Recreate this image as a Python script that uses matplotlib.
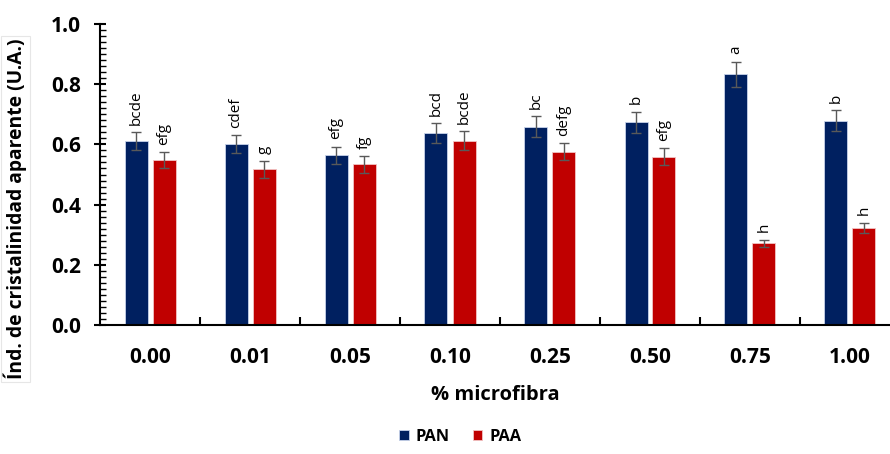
import numpy as np
import matplotlib.pyplot as plt
from matplotlib.ticker import MultipleLocator, FixedLocator, FormatStrFormatter

plt.rcParams['font.family'] = ['Open Sans', 'DejaVu Sans']

# datos: índice de cristalinidad por % de microfibra
microfibra = ['0.00', '0.01', '0.05', '0.10', '0.25', '0.50', '0.75', '1.00']
pan = [0.611, 0.601, 0.564, 0.637, 0.659, 0.674, 0.833, 0.679]
pan_err = [0.031, 0.031, 0.029, 0.033, 0.034, 0.035, 0.042, 0.034]
paa = [0.548, 0.517, 0.534, 0.612, 0.575, 0.559, 0.271, 0.322]
paa_err = [0.027, 0.027, 0.028, 0.032, 0.028, 0.028, 0.013, 0.018]
letras_pan = ['bcde', 'cdef', 'efg', 'bcd', 'bc', 'b', 'a', 'b']
letras_paa = ['efg', 'g', 'fg', 'bcde', 'defg', 'efg', 'h', 'h']

x = np.arange(len(microfibra))
w = 0.23
off = 0.14

fig = plt.figure(figsize=(8.9, 4.54), dpi=100)
ax = fig.add_axes([100 / 890, 129 / 454, 1 - 100 / 890, 301 / 454])

ax.bar(x - off, pan, w, color='#002060', edgecolor='#c7d3ea', linewidth=0.6, label='PAN')
ax.bar(x + off, paa, w, color='#C00000', edgecolor='#f2c4c4', linewidth=0.6, label='PAA')
ax.errorbar(x - off, pan, yerr=pan_err, fmt='none', ecolor='#595959', elinewidth=1, capsize=3.5, capthick=1)
ax.errorbar(x + off, paa, yerr=paa_err, fmt='none', ecolor='#595959', elinewidth=1, capsize=3.5, capthick=1)

# letras de significancia sobre cada barra
for i in range(len(x)):
    ax.text(x[i] - off, pan[i] + pan_err[i] + 0.024, letras_pan[i], rotation=90,
            ha='center', va='bottom', fontsize=11)
    ax.text(x[i] + off, paa[i] + paa_err[i] + 0.024, letras_paa[i], rotation=90,
            ha='center', va='bottom', fontsize=11)

ax.set_xlim(-0.5, 7.4)
ax.set_ylim(0, 1.0)
ax.yaxis.set_major_locator(MultipleLocator(0.2))
ax.yaxis.set_minor_locator(MultipleLocator(0.02))
ax.yaxis.set_major_formatter(FormatStrFormatter('%.1f'))
ax.tick_params(axis='y', which='major', direction='inout', length=9, width=1.5, labelsize=15, pad=9)
ax.tick_params(axis='y', which='minor', direction='in', length=4.5, width=1)
for lb in ax.get_yticklabels():
    lb.set_fontweight('bold')

ax.set_xticks(x)
ax.set_xticklabels(microfibra, fontweight='bold', fontsize=15)
ax.xaxis.set_minor_locator(FixedLocator(np.arange(0.5, 7, 1)))
ax.tick_params(axis='x', which='major', length=0, pad=16)
ax.tick_params(axis='x', which='minor', direction='in', length=6, width=1.5)

for s in ['top', 'right']:
    ax.spines[s].set_visible(False)
for s in ['left', 'bottom']:
    ax.spines[s].set_linewidth(1.5)

ax.set_xlabel('% microfibra', fontweight='bold', fontsize=14.5, labelpad=12)
ax.set_ylabel('Índ. de cristalinidad aparente (U.A.)', fontweight='bold', fontsize=13.9,
              bbox=dict(facecolor='white', edgecolor='#e6e6e6', linewidth=0.8, pad=2))
ax.yaxis.set_label_coords(-0.092, 0.385)

fig.legend(loc='center', bbox_to_anchor=(0.517, 0.038), ncol=2, frameon=False,
           prop={'weight': 'bold', 'size': 11.8}, handlelength=0.6, handleheight=0.6,
           columnspacing=1.4, handletextpad=0.4)

fig.savefig('out.png', dpi=100)
